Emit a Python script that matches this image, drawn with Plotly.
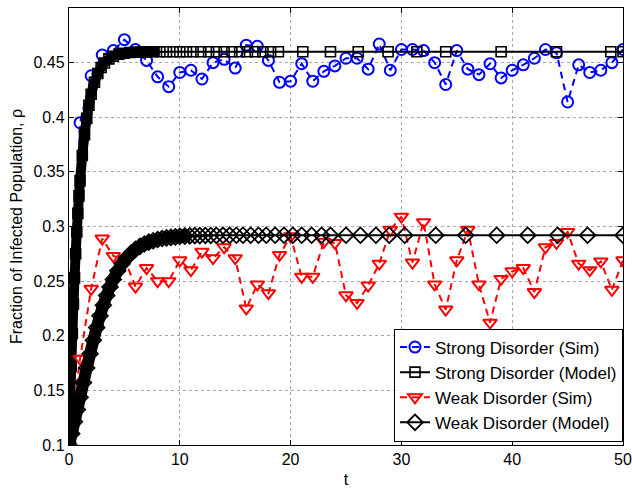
import plotly.graph_objects as go

# ---------------- data ----------------
sim_t = list(range(0, 51))

strong_sim = [0.100, 0.395, 0.438, 0.457, 0.461, 0.471, 0.462, 0.452, 0.437, 0.428,
              0.441, 0.443, 0.435, 0.450, 0.453, 0.445, 0.466, 0.465, 0.452, 0.432,
              0.433, 0.449, 0.433, 0.442, 0.447, 0.454, 0.454, 0.444, 0.467, 0.443,
              0.462, 0.462, 0.461, 0.450, 0.430, 0.461, 0.444, 0.439, 0.449, 0.436,
              0.443, 0.448, 0.454, 0.462, 0.459, 0.414, 0.448, 0.441, 0.443, 0.450,
              0.462]

weak_sim = [0.100, 0.179, 0.243, 0.289, 0.273, 0.270, 0.245, 0.262, 0.250, 0.250,
            0.269, 0.260, 0.277, 0.271, 0.281, 0.271, 0.225, 0.247, 0.239, 0.274,
            0.291, 0.254, 0.254, 0.286, 0.285, 0.237, 0.230, 0.246, 0.266, 0.297,
            0.309, 0.267, 0.304, 0.247, 0.224, 0.269, 0.297, 0.247, 0.212, 0.252,
            0.259, 0.262, 0.240, 0.281, 0.285, 0.295, 0.266, 0.260, 0.268, 0.242,
            0.269]

strong_model_t = [0, 0.1, 0.2, 0.3, 0.4, 0.5, 0.6, 0.7, 0.8, 0.9, 1.0,
                  1.2, 1.4, 1.6, 1.8, 2.0, 2.3, 2.6, 2.9, 3.2, 3.6, 4.0,
                  4.5, 5.0, 5.5, 6.0, 6.5, 7.0, 7.6, 8.2, 8.8, 9.4, 10.0,
                  10.6, 11.2, 11.9, 12.6, 13.3, 14.0, 14.7, 15.4, 16.1, 16.8,
                  17.5, 18.2, 18.9, 21.1, 23.6, 26.1, 28.8, 31.4, 34.0, 39.0,
                  44.0, 48.9, 50.0]
strong_model = [0.100, 0.138, 0.172, 0.202, 0.229, 0.253, 0.275, 0.295, 0.312, 0.328, 0.342,
                0.365, 0.384, 0.399, 0.411, 0.421, 0.432, 0.440, 0.4456, 0.4497, 0.4534, 0.4558,
                0.4576, 0.4586, 0.4592, 0.4595, 0.4597, 0.4598, 0.4599, 0.4599, 0.46, 0.46, 0.46,
                0.46, 0.46, 0.46, 0.46, 0.46, 0.46, 0.46, 0.46, 0.46, 0.46,
                0.46, 0.46, 0.46, 0.46, 0.46, 0.46, 0.46, 0.46, 0.46, 0.46,
                0.46, 0.46, 0.46]

weak_model_t = [0, 0.25, 0.5, 0.75, 1.0, 1.3, 1.6, 1.9, 2.2, 2.5, 2.8, 3.1, 3.4, 3.7, 4.0,
                4.4, 4.8, 5.2, 5.6, 6.0, 6.4, 6.8, 7.2, 7.6, 8.0, 8.4, 8.8, 9.2, 9.6, 10.0,
                10.45, 10.9, 11.35, 11.8, 12.3, 12.8, 13.3, 13.9, 14.5, 15.1, 15.7,
                16.4, 17.1, 17.8, 18.6, 19.4, 20.2, 21.0, 21.9, 22.8, 23.6,
                25.0, 26.3, 27.7, 28.9, 30.3, 33.1, 35.8, 38.6, 41.4, 44.1, 46.8, 50.0]
weak_model = [0.100, 0.1104, 0.1213, 0.1324, 0.1436, 0.1572, 0.1705, 0.1835, 0.1959, 0.2075,
              0.2182, 0.2280, 0.2368, 0.2446, 0.2516,
              0.2595, 0.2660, 0.2713, 0.2756, 0.2790, 0.2818, 0.2840, 0.2857, 0.2870, 0.2881,
              0.2890, 0.2896, 0.2901, 0.2905, 0.2909,
              0.2912, 0.2914, 0.2916, 0.2917, 0.2918, 0.2918, 0.2919, 0.2919, 0.2919, 0.292, 0.292,
              0.292, 0.292, 0.292, 0.292, 0.292, 0.292, 0.292, 0.292, 0.292, 0.292,
              0.292, 0.292, 0.292, 0.292, 0.292, 0.292, 0.292, 0.292, 0.292, 0.292, 0.292, 0.292]

x_ticks = [0, 10, 20, 30, 40, 50]
y_ticks = [0.1, 0.15, 0.2, 0.25, 0.3, 0.35, 0.4, 0.45, 0.5]
y_tick_text = ["0.1", "0.15", "0.2", "0.25", "0.3", "0.35", "0.4", "0.45", "0.5"]

names = ["Strong Disorder (Sim)", "Strong Disorder (Model)",
         "Weak Disorder (Sim)", "Weak Disorder (Model)"]

# ---------------- figure ----------------
FONT = "Liberation Sans, Arial, Helvetica, sans-serif"
fig = go.Figure()

# strong sim
fig.add_trace(go.Scatter(
    x=sim_t, y=strong_sim, mode="lines+markers", name=names[0],
    line=dict(color="#0000ff", width=2, dash="7px,5px"),
    marker=dict(symbol="circle-open", size=11, color="#0000ff", line=dict(width=2))))

# strong model: dense solver steps drawn as a thick band in the early part
n_sb = sum(1 for v in strong_model_t if v <= 8.2)
fig.add_trace(go.Scatter(
    x=strong_model_t[:n_sb], y=strong_model[:n_sb], mode="lines", showlegend=False,
    hoverinfo="skip", line=dict(color="black", width=10, shape="spline")))
fig.add_trace(go.Scatter(
    x=strong_model_t, y=strong_model, mode="lines+markers", name=names[1],
    line=dict(color="black", width=2),
    marker=dict(symbol="square-open", size=10, color="black", line=dict(width=1.6))))

# weak sim
fig.add_trace(go.Scatter(
    x=sim_t, y=weak_sim, mode="lines+markers", name=names[2],
    line=dict(color="#ff0000", width=2, dash="7px,5px"),
    marker=dict(symbol="triangle-down-open", size=12, color="#ff0000", line=dict(width=2))))

# weak model
n_wb = sum(1 for v in weak_model_t if v <= 10.9)
fig.add_trace(go.Scatter(
    x=weak_model_t[:n_wb], y=weak_model[:n_wb], mode="lines", showlegend=False,
    hoverinfo="skip", line=dict(color="black", width=12, shape="spline")))
fig.add_trace(go.Scatter(
    x=weak_model_t, y=weak_model, mode="lines+markers", name=names[3],
    line=dict(color="black", width=2),
    marker=dict(symbol="diamond-open", size=12, color="black", line=dict(width=1.8))))

axis_common = dict(
    showline=True, linecolor="black", linewidth=1.4, mirror="ticks",
    ticks="inside", ticklen=5, tickwidth=1, tickcolor="black",
    showgrid=True, gridcolor="#a8a8a8", griddash="dot", gridwidth=1,
    zeroline=False, tickfont=dict(family=FONT, size=16, color="black"),
)

fig.update_xaxes(range=[0, 50], tickvals=x_ticks,
                 title=dict(text="t", font=dict(family=FONT, size=16, color="black"), standoff=6),
                 **axis_common)
fig.update_yaxes(range=[0.1, 0.5], tickvals=y_ticks, ticktext=y_tick_text,
                 title=dict(text="Fraction of Infected Population, ρ",
                            font=dict(family=FONT, size=16, color="black"), standoff=6),
                 **axis_common)

fig.update_layout(
    width=632, height=491,
    margin=dict(l=69, r=9, t=8, b=46, autoexpand=False),
    paper_bgcolor="white", plot_bgcolor="white",
    font=dict(family=FONT, size=16, color="black"),
    showlegend=True,
    legend=dict(x=1, xanchor="right", y=0.008, yanchor="bottom",
                bgcolor="white", bordercolor="black", borderwidth=1,
                font=dict(family=FONT, size=17, color="black"),
                tracegroupgap=0, itemwidth=30),
)

fig.write_html("out.html")
